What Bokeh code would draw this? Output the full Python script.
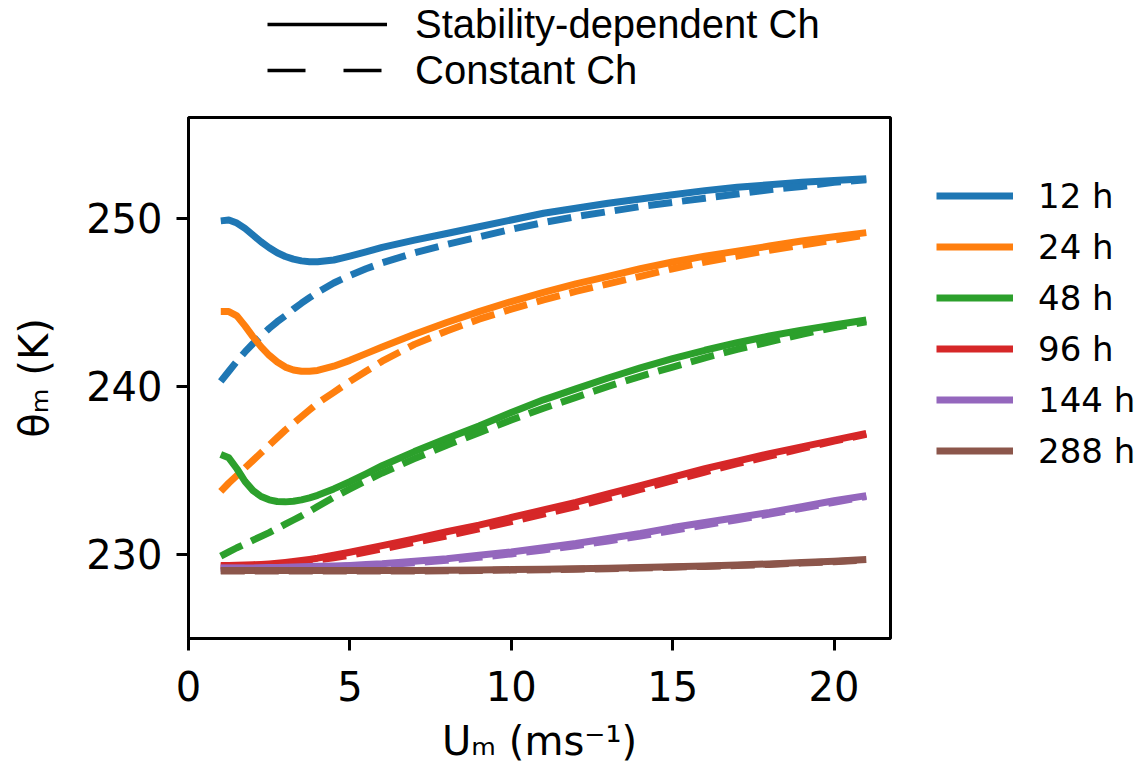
import numpy as np
from bokeh.plotting import figure
from bokeh.layouts import column, row
from bokeh.models import Legend, LegendItem, Range1d, FixedTicker
from bokeh.embed import file_html
from bokeh.resources import INLINE

# ---------------- data ----------------
u_m = [1, 1.25, 1.5, 1.75, 2, 2.25, 2.5, 2.75, 3, 3.25, 3.5, 3.75, 4, 4.5, 5, 5.5,
       6, 7, 8, 9, 10, 11, 12, 13, 14, 15, 16, 17, 18, 19, 20, 21]

labels = ["12 h", "24 h", "48 h", "96 h", "144 h", "288 h"]
colors = ["#1f77b4", "#ff7f0e", "#2ca02c", "#d62728", "#9467bd", "#8c564b"]
style_labels = ["Stability-dependent Ch", "Constant Ch"]

# stability-dependent Ch (solid)
stab_12 = [249.85, 249.9, 249.72, 249.4, 249.0, 248.6, 248.25, 247.95, 247.73, 247.57,
           247.47, 247.42, 247.42, 247.52, 247.75, 248.0,
           248.27, 248.7, 249.1, 249.5, 249.9, 250.3, 250.6, 250.9, 251.15, 251.4,
           251.65, 251.85, 252.0, 252.15, 252.25, 252.35]
stab_24 = [244.45, 244.45, 244.2, 243.6, 242.95, 242.35, 241.85, 241.45, 241.15, 240.98,
           240.9, 240.9, 240.95, 241.2, 241.55, 241.95,
           242.35, 243.1, 243.8, 244.45, 245.05, 245.6, 246.1, 246.55, 247.0, 247.4,
           247.75, 248.05, 248.35, 248.65, 248.9, 249.15]
stab_48 = [235.95, 235.75, 235.1, 234.35, 233.8, 233.45, 233.25, 233.15, 233.13, 233.17,
           233.25, 233.37, 233.52, 233.9, 234.33, 234.8,
           235.28, 236.12, 236.9, 237.65, 238.45, 239.2, 239.85, 240.5, 241.1, 241.65,
           242.15, 242.6, 243.0, 243.35, 243.65, 243.95]
stab_96 = [229.35, 229.35, 229.36, 229.37, 229.39, 229.41, 229.44, 229.48, 229.53, 229.58,
           229.64, 229.71, 229.78, 229.95, 230.13, 230.33,
           230.53, 230.93, 231.35, 231.75, 232.2, 232.65, 233.1, 233.6, 234.1, 234.6,
           235.1, 235.55, 236.0, 236.4, 236.8, 237.2]
stab_144 = [229.2, 229.2, 229.2, 229.2, 229.2, 229.21, 229.22, 229.23, 229.24, 229.25,
            229.27, 229.28, 229.3, 229.32, 229.35, 229.4,
            229.45, 229.6, 229.75, 229.95, 230.15, 230.4, 230.65, 230.95, 231.25, 231.6,
            231.9, 232.2, 232.5, 232.85, 233.2, 233.5]
stab_288 = [229.05, 229.05, 229.05, 229.05, 229.05, 229.05, 229.05, 229.05, 229.05, 229.05,
            229.05, 229.05, 229.05, 229.05, 229.05, 229.05,
            229.05, 229.05, 229.06, 229.08, 229.1, 229.12, 229.15, 229.18, 229.22, 229.27,
            229.32, 229.37, 229.44, 229.52, 229.6, 229.7]

# constant Ch (dashed)
const_12 = [240.3, 240.9, 241.5, 242.05, 242.55, 243.0, 243.45, 243.85, 244.2, 244.6,
            244.95, 245.28, 245.6, 246.15, 246.6, 247.0,
            247.35, 247.95, 248.45, 248.9, 249.35, 249.75, 250.1, 250.4, 250.7, 250.95,
            251.2, 251.45, 251.7, 251.9, 252.15, 252.3]
const_24 = [233.75, 234.25, 234.7, 235.15, 235.6, 236.05, 236.5, 236.95, 237.4, 237.8,
            238.2, 238.6, 239.0, 239.65, 240.3, 240.9,
            241.5, 242.5, 243.3, 244.0, 244.6, 245.15, 245.65, 246.1, 246.55, 247.0,
            247.4, 247.75, 248.1, 248.4, 248.7, 249.0]
const_48 = [229.9, 230.15, 230.4, 230.62, 230.85, 231.08, 231.3, 231.55, 231.8, 232.05,
            232.3, 232.57, 232.85, 233.4, 233.9, 234.38,
            234.85, 235.7, 236.5, 237.25, 238.0, 238.7, 239.35, 240.0, 240.6, 241.15,
            241.7, 242.2, 242.65, 243.1, 243.5, 243.85]
const_96 = [229.3, 229.3, 229.3, 229.31, 229.32, 229.34, 229.37, 229.41, 229.45, 229.5,
            229.55, 229.61, 229.67, 229.8, 229.95, 230.14,
            230.33, 230.72, 231.1, 231.52, 231.95, 232.4, 232.85, 233.35, 233.87, 234.4,
            234.9, 235.4, 235.85, 236.3, 236.75, 237.15]
const_144 = [229.18, 229.18, 229.18, 229.18, 229.18, 229.18, 229.19, 229.19, 229.2, 229.21,
             229.22, 229.23, 229.24, 229.27, 229.3, 229.34,
             229.38, 229.5, 229.65, 229.83, 230.03, 230.27, 230.52, 230.8, 231.1, 231.43,
             231.75, 232.07, 232.4, 232.75, 233.1, 233.45]
const_288 = [229.02, 229.02, 229.02, 229.02, 229.02, 229.02, 229.02, 229.02, 229.02, 229.02,
             229.02, 229.02, 229.02, 229.02, 229.02, 229.02,
             229.02, 229.02, 229.03, 229.05, 229.07, 229.09, 229.12, 229.15, 229.19, 229.24,
             229.29, 229.34, 229.41, 229.49, 229.57, 229.67]

stab_series = [stab_12, stab_24, stab_48, stab_96, stab_144, stab_288]
const_series = [const_12, const_24, const_48, const_96, const_144, const_288]

x_ticks = [0, 5, 10, 15, 20]
y_ticks = [230, 240, 250]

# ---------------- main figure ----------------
p = figure(width=895, height=663,
           x_range=Range1d(0, 21.75), y_range=Range1d(225, 256),
           output_backend="svg", toolbar_location=None,
           min_border_left=188, min_border_right=5,
           min_border_top=5, min_border_bottom=137)

p.grid.visible = False
p.background_fill_color = "white"
p.border_fill_color = "white"
p.outline_line_color = "black"
p.outline_line_width = 3

for ax in (p.xaxis[0], p.yaxis[0]):
    ax.axis_line_width = 3
    ax.major_tick_line_width = 3
    ax.major_tick_out = 12
    ax.major_tick_in = 0
    ax.minor_tick_line_color = None
    ax.major_label_text_font = "DejaVu Sans"
    ax.major_label_text_font_size = "40px"
    ax.major_label_text_color = "black"
    ax.axis_label_text_font = "DejaVu Sans"
    ax.axis_label_text_font_size = "40px"
    ax.axis_label_text_font_style = "normal"
    ax.axis_label_text_color = "black"

p.xaxis.ticker = FixedTicker(ticks=x_ticks)
p.yaxis.ticker = FixedTicker(ticks=y_ticks)
p.xaxis.major_label_standoff = 20
p.yaxis.major_label_standoff = 14
p.xaxis.axis_label = "Uₘ (ms⁻¹)"
p.yaxis.axis_label = "θₘ (K)"
p.xaxis.axis_label_standoff = 14
p.yaxis.axis_label_standoff = 26

for i in range(len(labels)):
    p.line(u_m, stab_series[i], line_color=colors[i], line_width=7, line_join="round")
    p.line(u_m, const_series[i], line_color=colors[i], line_width=7,
           line_dash="24 10", line_join="round")


def legend_figure(w, h):
    f = figure(width=w, height=h, x_range=Range1d(0, 1), y_range=Range1d(0, 1),
               output_backend="svg", toolbar_location=None,
               x_axis_location=None, y_axis_location=None,
               min_border=0, min_border_left=0, min_border_right=0,
               min_border_top=0, min_border_bottom=0)
    f.grid.visible = False
    f.outline_line_color = None
    f.background_fill_color = "white"
    f.border_fill_color = "white"
    return f


# legend handles carry no visible data (NaN placeholders)
nan_pair = np.full(2, np.nan)

# ---------------- top legend (line styles) ----------------
top = legend_figure(1137, 112)
r_solid = top.line(nan_pair, nan_pair, line_color="black", line_width=3.5)
r_dash = top.line(nan_pair, nan_pair, line_color="black", line_width=3.5,
                  line_dash="38 38")
style_legend = Legend(
    items=[LegendItem(label=style_labels[0], renderers=[r_solid]),
           LegendItem(label=style_labels[1], renderers=[r_dash])],
    location=(267, 19), orientation="vertical",
    glyph_width=120, glyph_height=46, label_height=46, spacing=0,
    padding=0, margin=0, label_standoff=28,
    label_text_font="Liberation Sans", label_text_font_size="40px",
    label_text_color="black",
    border_line_alpha=0, background_fill_alpha=0)
top.add_layout(style_legend, "center")

# ---------------- right legend (times) ----------------
side = legend_figure(242, 663)
side_renderers = [side.line(nan_pair, nan_pair, line_color=colors[i], line_width=7)
                  for i in range(len(labels))]
time_legend = Legend(
    items=[LegendItem(label=labels[i], renderers=[side_renderers[i]])
           for i in range(len(labels))],
    location=(41, 162), orientation="vertical",
    glyph_width=77, glyph_height=51, label_height=51, spacing=0,
    padding=0, margin=0, label_standoff=25,
    label_text_font="DejaVu Sans", label_text_font_size="34px",
    label_text_color="black",
    border_line_alpha=0, background_fill_alpha=0)
side.add_layout(time_legend, "center")

layout = column(top, row(p, side, spacing=0), spacing=0)

open("out.html", "w").write(file_html(layout, INLINE))
